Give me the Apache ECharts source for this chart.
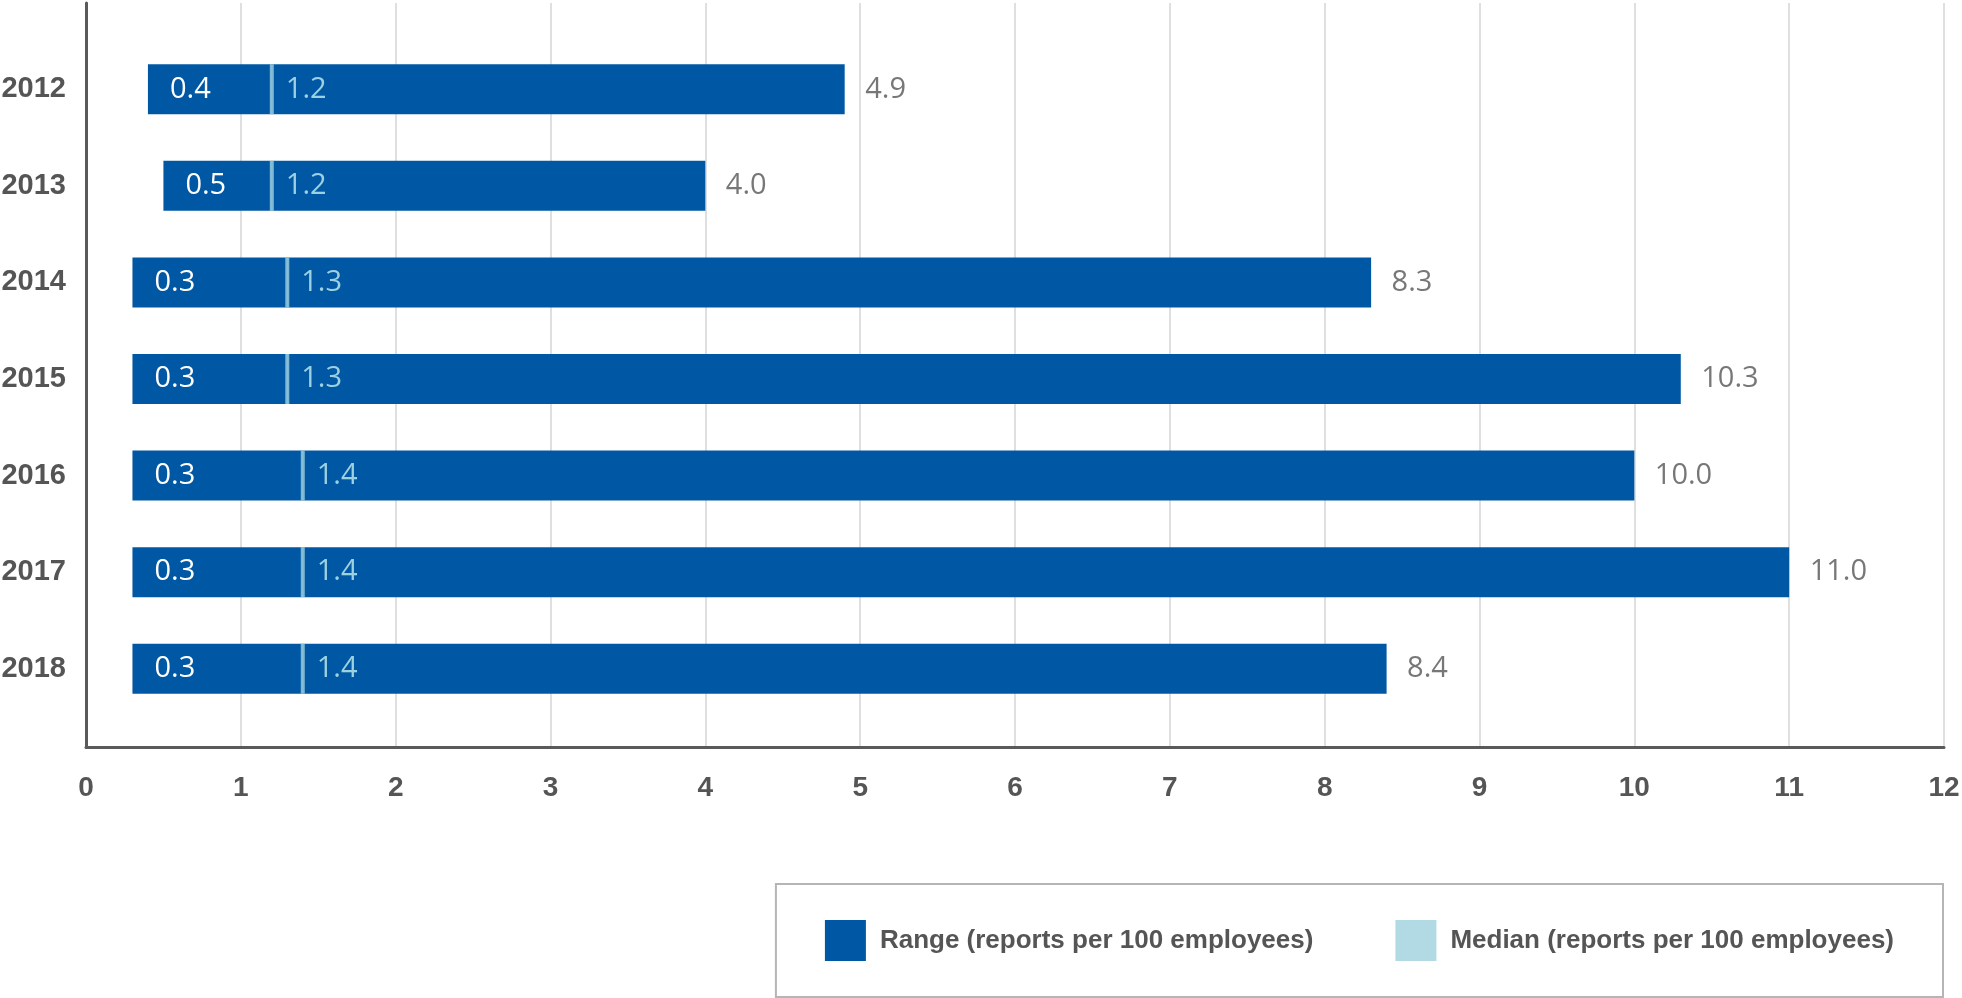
<!DOCTYPE html>
<html>
<head>
<meta charset="utf-8">
<script src="https://cdn.jsdelivr.net/npm/echarts@6/dist/echarts.min.js"></script>
<style>
  html, body { margin: 0; padding: 0; background: #fff; }
  #chart { width: 1962px; height: 998px; }
</style>
</head>
<body>
<div id="chart"></div>
<script>
var years = ['2012', '2013', '2014', '2015', '2016', '2017', '2018'];
var minVals = [0.4, 0.5, 0.3, 0.3, 0.3, 0.3, 0.3];
var medianVals = [1.2, 1.2, 1.3, 1.3, 1.4, 1.4, 1.4];
var maxVals = [4.9, 4.0, 8.3, 10.3, 10.0, 11.0, 8.4];
var xTicks = [0, 1, 2, 3, 4, 5, 6, 7, 8, 9, 10, 11, 12];

var blue = '#0058a5';
var light = '#9dd1df';
var grey = '#555555';
var sans = '"Liberation Sans", Arial, sans-serif';
var numFont = '"Open Sans", sans-serif';
var rangeName = 'Range (reports per 100 employees)';
var medianName = 'Median (reports per 100 employees)';

var chart = echarts.init(document.getElementById('chart'));

chart.setOption({
  animation: false,
  grid: [
    // outer frame: axis lines and gridlines
    { left: 86, right: 18, top: 3, bottom: 251, outerBoundsMode: 'none' },
    // inner band for the bars so the year rows line up
    { left: 86, right: 18, top: 41, bottom: 281, outerBoundsMode: 'none' }
  ],
  xAxis: [{
    gridIndex: 0,
    type: 'value',
    min: xTicks[0],
    max: xTicks[xTicks.length - 1],
    interval: 1,
    axisLine: { show: true, lineStyle: { color: '#5a5a5a', width: 3 } },
    axisTick: { show: false },
    splitLine: { show: true, lineStyle: { color: '#d4d4d4', width: 1.5 } },
    axisLabel: { color: grey, fontFamily: sans, fontWeight: 'bold', fontSize: 28, margin: 27 }
  }, {
    gridIndex: 1,
    type: 'value',
    min: xTicks[0],
    max: xTicks[xTicks.length - 1],
    show: false
  }],
  yAxis: [{
    gridIndex: 0,
    type: 'value',
    axisLine: { show: true, lineStyle: { color: '#5a5a5a', width: 3 } },
    axisTick: { show: false },
    axisLabel: { show: false },
    splitLine: { show: false }
  }, {
    gridIndex: 1,
    type: 'category',
    inverse: true,
    data: years,
    axisLine: { show: false },
    axisTick: { show: false },
    axisLabel: { color: grey, fontFamily: sans, fontWeight: 'bold', fontSize: 29, margin: 20 }
  }],
  legend: {
    data: [rangeName, medianName],
    bottom: 1,
    right: 19,
    icon: 'rect',
    itemWidth: 41,
    itemHeight: 41,
    itemGap: 82,
    padding: [36, 49],
    borderColor: '#b5b5b5',
    borderWidth: 2,
    textStyle: { color: grey, fontFamily: sans, fontWeight: 'bold', fontSize: 26, padding: [0, 0, 0, 9] }
  },
  series: [{
    name: 'base',
    type: 'bar',
    stack: 'r',
    xAxisIndex: 1,
    yAxisIndex: 1,
    barWidth: 50,
    silent: true,
    itemStyle: { color: 'transparent' },
    data: minVals
  }, {
    name: rangeName,
    type: 'bar',
    stack: 'r',
    xAxisIndex: 1,
    yAxisIndex: 1,
    barWidth: 50,
    itemStyle: { color: blue },
    label: {
      show: true,
      position: 'insideLeft',
      distance: 22,
      color: '#fff',
      fontFamily: numFont,
      fontSize: 29,
      formatter: function (p) { return minVals[p.dataIndex].toFixed(1); }
    },
    data: medianVals.map(function (m, i) { return m - minVals[i]; })
  }, {
    name: rangeName,
    type: 'bar',
    stack: 'r',
    xAxisIndex: 1,
    yAxisIndex: 1,
    barWidth: 50,
    itemStyle: { color: blue },
    label: {
      show: true,
      position: 'insideLeft',
      distance: 14,
      color: light,
      fontFamily: numFont,
      fontSize: 29,
      formatter: function (p) { return medianVals[p.dataIndex].toFixed(1); }
    },
    data: maxVals.map(function (m, i) { return m - medianVals[i]; })
  }, {
    name: medianName,
    type: 'scatter',
    xAxisIndex: 1,
    yAxisIndex: 1,
    symbol: 'rect',
    symbolSize: [4, 50],
    z: 5,
    itemStyle: { color: light },
    data: medianVals.map(function (v, i) { return [v, years[i]]; })
  }, {
    name: 'max',
    type: 'scatter',
    xAxisIndex: 1,
    yAxisIndex: 1,
    symbolSize: 1,
    itemStyle: { color: 'transparent' },
    label: {
      show: true,
      position: 'right',
      distance: 20,
      color: grey,
      fontFamily: numFont,
      fontSize: 29,
      formatter: function (p) { return maxVals[p.dataIndex].toFixed(1); }
    },
    data: maxVals.map(function (v, i) { return [v, years[i]]; })
  }]
});
</script>
</body>
</html>
